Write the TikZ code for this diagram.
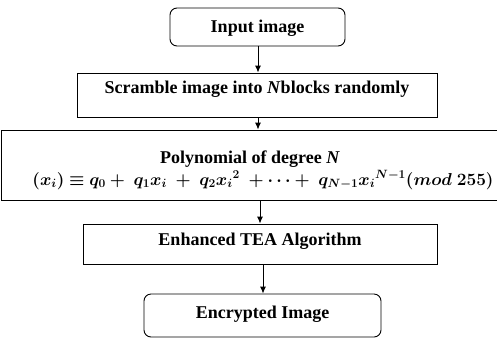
\documentclass[tikz,border=0pt]{standalone}
\usepackage{amsmath,bm}
\usepackage{fontspec}
\setmainfont{Liberation Serif}
\usetikzlibrary{arrows.meta}
\tikzset{
  stepbox/.style={draw,line width=0.9pt,inner sep=0pt,font=\fontsize{18}{21}\selectfont\bfseries},
  flow/.style={-{Latex[length=7pt,width=6pt]},line width=0.9pt}
}
\begin{document}
\begin{tikzpicture}[x=1pt,y=-1pt]
\useasboundingbox (0,0) rectangle (497,338);
\node[stepbox,rounded corners=7pt,minimum width=175pt,minimum height=38pt,text height=12pt,text depth=2pt] (input) at (257.5,27) {Input image};
\node[stepbox,minimum width=360pt,minimum height=44pt,text height=12pt,text depth=16pt] (scramble) at (257,95) {Scramble image into \textit{N}blocks randomly};
\node[stepbox,minimum width=497pt,minimum height=70pt,align=center] (poly) at (250,165) {\vphantom{$\bm{x}$}\\[-6pt]Polynomial of degree \textit{N}\hspace*{16pt}\\[1pt]
  \hspace*{26pt}$\bm{(x_i) \equiv q_0 +\; q_1x_i \;+\; q_2{x_i}^2 \;+ \cdots +\; q_{N-1}{x_i}^{N-1}(mod\;255)}$};
\node[stepbox,minimum width=354pt,minimum height=40pt,text height=12pt,text depth=10pt] (tea) at (260,244) {Enhanced TEA Algorithm};
\node[stepbox,rounded corners=7pt,minimum width=237pt,minimum height=43pt,text height=12pt,text depth=7pt] (enc) at (262.5,315.5) {Encrypted Image};
% arrows
\draw[flow] (input.south -| 258,0) -- (scramble.north -| 258,0);
\draw[flow] (scramble.south -| 258,0) -- (poly.north -| 258,0);
\draw[flow] (poly.south -| 260,0) -- (tea.north -| 260,0);
\draw[flow] (tea.south -| 263,0) -- (enc.north -| 263,0);
\end{tikzpicture}
\end{document}
